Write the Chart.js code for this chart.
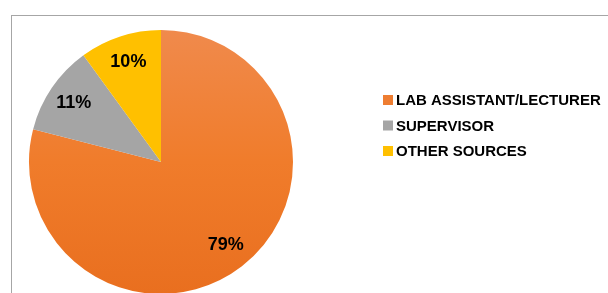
<!DOCTYPE html>
<html>
<head>
<meta charset="utf-8">
<script src="https://cdn.jsdelivr.net/npm/chart.js@4/dist/chart.umd.min.js"></script>
<style>
  html, body { margin: 0; padding: 0; background: #fff; overflow: hidden; width: 608px; height: 293px; }
  #frame { position: absolute; left: 11px; top: 15px; width: 800px; height: 400px; border: 1px solid #a6a6a6; }
  #pieChart { position: absolute; left: 0; top: 0; }
</style>
</head>
<body>
<div id="frame"></div>
<canvas id="pieChart" width="608" height="330"></canvas>
<script>
// data
const categories = ['LAB ASSISTANT/LECTURER', 'SUPERVISOR', 'OTHER SOURCES'];
const shares = [79, 11, 10];
const sliceColors = ['#ee7d31', '#a5a5a5', '#ffc000'];

// orange slice is shaded lighter at the top
function sliceFill(ctx) {
    const chart = ctx.chart;
    const area = chart.chartArea;
    if (!area || ctx.dataIndex !== 0) return sliceColors[ctx.dataIndex];
    const g = chart.ctx.createLinearGradient(0, area.top, 0, area.bottom);
    g.addColorStop(0, '#f08a4c');
    g.addColorStop(0.5, '#f07c2b');
    g.addColorStop(1, '#e96f1f');
    return g;
}

// percent labels inside the slices
const sliceLabels = {
    id: 'sliceLabels',
    afterDatasetsDraw(chart) {
        const ctx = chart.ctx;
        const meta = chart.getDatasetMeta(0);
        ctx.save();
        ctx.font = 'bold 18px "Liberation Sans", Arial, sans-serif';
        ctx.fillStyle = '#000';
        ctx.textAlign = 'center';
        ctx.textBaseline = 'middle';
        meta.data.forEach((arc, i) => {
            const p = arc.getProps(['x', 'y', 'startAngle', 'endAngle', 'outerRadius'], true);
            const mid = (p.startAngle + p.endAngle) / 2;
            const r = p.outerRadius * 0.8;
            ctx.fillText(shares[i] + '%', p.x + Math.cos(mid) * r, p.y + Math.sin(mid) * r);
        });
        ctx.restore();
    }
};

// legend to the right of the pie
const sideLegend = {
    id: 'sideLegend',
    afterDraw(chart) {
        const ctx = chart.ctx;
        const o = chart.options.plugins.sideLegend;
        ctx.save();
        ctx.font = 'bold 15px "Liberation Sans", Arial, sans-serif';
        ctx.textBaseline = 'middle';
        chart.data.labels.forEach((label, i) => {
            const y = o.top + i * o.step;
            ctx.fillStyle = sliceColors[i];
            ctx.fillRect(o.left, y - 5, 10, 10);
            ctx.fillStyle = '#000';
            ctx.fillText(label, o.left + 13, y + 1);
        });
        ctx.restore();
    }
};

new Chart(document.getElementById('pieChart'), {
    type: 'pie',
    data: {
        labels: categories,
        datasets: [{
            data: shares,
            backgroundColor: sliceFill,
            borderWidth: 0
        }]
    },
    options: {
        responsive: false,
        animation: false,
        layout: { padding: { left: 29, top: 30, right: 315, bottom: 36 } },
        plugins: {
            legend: { display: false },
            tooltip: { enabled: false },
            sideLegend: { left: 383, top: 100, step: 25.5 }
        }
    },
    plugins: [sliceLabels, sideLegend]
});
</script>
</body>
</html>
